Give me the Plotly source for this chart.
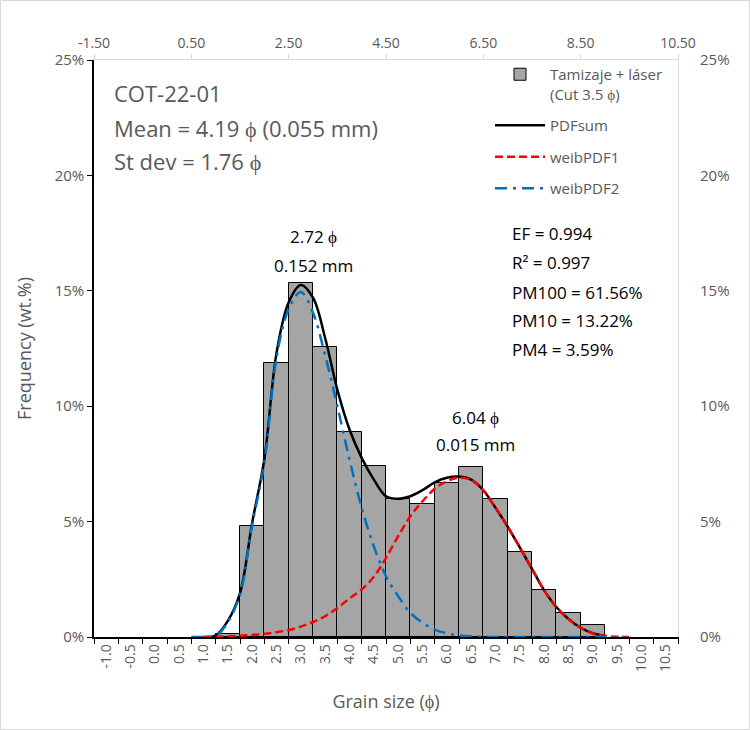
import plotly.graph_objects as go

# ---------------- data ----------------
categories = ["-1.0", "-0.5", "0.0", "0.5", "1.0", "1.5", "2.0", "2.5", "3.0", "3.5",
              "4.0", "4.5", "5.0", "5.5", "6.0", "6.5", "7.0", "7.5", "8.0", "8.5",
              "9.0", "9.5", "10.0", "10.5"]
freq = [None, None, None, None, None, 0.15, 4.80, 11.88, 15.32, 12.56,
        8.87, 7.40, 5.96, 5.77, 6.68, 7.37, 5.99, 3.68, 2.03, 1.05,
        0.51, None, None, None]

phi_sum = [0.75, 1.0, 1.25, 1.5, 1.75, 2.0, 2.25, 2.5, 2.75, 3.0, 3.25, 3.5, 3.75, 4.0,
           4.25, 4.5, 4.75, 5.0, 5.25, 5.5, 5.75, 6.0, 6.25, 6.5, 6.75, 7.0, 7.25, 7.5,
           7.75, 8.0, 8.25, 8.5, 8.75, 9.0]
pdf_sum = [0.0, 0.07, 0.7, 1.9, 4.95, 7.7, 12.3, 14.5, 15.25, 14.7, 12.95, 10.72, 8.99, 7.76,
           6.82, 6.1, 5.99, 6.1, 6.36, 6.7, 6.9, 6.95, 6.82, 6.36, 5.6, 4.78, 3.88, 2.95,
           2.02, 1.3, 0.78, 0.4, 0.16, 0.05]

phi_w1 = [0.75, 1.0, 1.25, 1.5, 1.75, 2.0, 2.25, 2.5, 2.75, 3.0, 3.25, 3.5, 3.75, 4.0,
          4.25, 4.5, 4.75, 5.0, 5.25, 5.5, 5.75, 6.0, 6.25, 6.5, 6.75, 7.0, 7.25, 7.5,
          7.75, 8.0, 8.25, 8.5, 8.75, 9.0, 9.25, 9.5]
weib_pdf1 = [0.0, 0.01, 0.03, 0.05, 0.09, 0.14, 0.21, 0.3, 0.45, 0.65, 0.9, 1.26, 1.67, 2.06,
             2.61, 3.43, 4.37, 5.23, 5.88, 6.42, 6.75, 6.9, 6.8, 6.35, 5.6, 4.78, 3.88, 2.95,
             2.02, 1.3, 0.78, 0.4, 0.16, 0.05, 0.01, 0.0]

phi_w2 = [0.5, 0.75, 1.0, 1.25, 1.5, 1.75, 2.0, 2.25, 2.5, 2.75, 3.0, 3.25, 3.5, 3.75, 4.0,
          4.25, 4.5, 4.75, 5.0, 5.25, 5.5, 5.75, 6.0, 6.25, 6.5, 6.75, 7.0, 7.5, 8.0,
          8.5, 9.0, 9.4]
weib_pdf2 = [0.0, 0.0, 0.05, 0.65, 1.85, 4.85, 7.55, 12.1, 14.2, 14.95, 14.05, 12.2, 10.0, 7.69,
             5.6, 3.93, 2.63, 1.77, 1.05, 0.62, 0.32, 0.16, 0.07, 0.03, 0.01, 0.0, 0.0, 0.0,
             0.0, 0.0, 0.0, 0.0]

top_ticks = [-1.5, 0.5, 2.5, 4.5, 6.5, 8.5, 10.5]
top_labels = ["-1.50", "0.50", "2.50", "4.50", "6.50", "8.50", "10.50"]
y_ticks = [0, 5, 10, 15, 20, 25]
y_labels = ["0%", "5%", "10%", "15%", "20%", "25%"]

stats_lines = ["COT-22-01", "Mean = 4.19 \u03d5 (0.055 mm)", "St dev = 1.76 \u03d5"]
fit_lines = ["EF = 0.994", "R\u00b2 = 0.997", "PM100 = 61.56%", "PM10 = 13.22%", "PM4 = 3.59%"]
peak1 = ["2.72 \u03d5", "0.152 mm"]
peak2 = ["6.04 \u03d5", "0.015 mm"]

# ---------------- figure ----------------
FONT = "Open Sans"
GRAY = "#595959"
L, R, T, B = 94, 72, 60, 93
W, H = 750, 730
PW, PH = W - L - R, H - T - B


def px(x):
    return (x - L) / PW


def py(y):
    return (H - B - y) / PH


fig = go.Figure()

fig.add_trace(go.Bar(
    x=categories, y=freq, name="Tamizaje + l\u00e1ser<br>(Cut 3.5 \u03d5)",
    marker=dict(color="#A5A5A5", line=dict(color="black", width=1)),
    xaxis="x", yaxis="y", legendgroup="g1",
))
fig.add_trace(go.Scatter(
    x=phi_sum, y=pdf_sum, name="PDFsum", mode="lines",
    line=dict(color="black", width=2.5, shape="spline"),
    xaxis="x2", yaxis="y", legendgroup="g2",
))
fig.add_trace(go.Scatter(
    x=phi_w1, y=weib_pdf1, name="weibPDF1", mode="lines",
    line=dict(color="#FF0000", width=2.5, dash="8px,4px", shape="spline"),
    xaxis="x2", yaxis="y", legendgroup="g3",
))
fig.add_trace(go.Scatter(
    x=phi_w2, y=weib_pdf2, name="weibPDF2", mode="lines",
    line=dict(color="#0070C0", width=2.5, dash="12px,6px,3px,6px", shape="spline"),
    xaxis="x2", yaxis="y", legendgroup="g4",
))
# invisible companion so the right-hand axis is drawn
fig.add_trace(go.Scatter(
    x=phi_sum, y=pdf_sum, mode="markers", marker=dict(opacity=0),
    xaxis="x2", yaxis="y2", showlegend=False, hoverinfo="skip",
))

annotations = []
for t, yy in zip(stats_lines, [93, 128, 161]):
    annotations.append(dict(text=t, x=px(112), y=py(yy), xref="paper", yref="paper",
                            xanchor="left", yanchor="middle", showarrow=False,
                            font=dict(family=FONT, size=22, color=GRAY)))
for t, yy in zip(fit_lines, [233, 262, 292, 320, 349]):
    annotations.append(dict(text=t, x=px(510), y=py(yy), xref="paper", yref="paper",
                            xanchor="left", yanchor="middle", showarrow=False,
                            font=dict(family=FONT, size=17, color="black")))
for t, yy in zip(peak1, [237, 265]):
    annotations.append(dict(text=t, x=px(313), y=py(yy), xref="paper", yref="paper",
                            xanchor="center", yanchor="middle", showarrow=False,
                            font=dict(family=FONT, size=17, color="black")))
for t, yy in zip(peak2, [417, 445]):
    annotations.append(dict(text=t, x=px(475), y=py(yy), xref="paper", yref="paper",
                            xanchor="center", yanchor="middle", showarrow=False,
                            font=dict(family=FONT, size=17, color="black")))

fig.update_layout(
    width=W, height=H,
    margin=dict(l=L, r=R, t=T, b=B),
    paper_bgcolor="white", plot_bgcolor="white",
    font=dict(family=FONT, color=GRAY),
    bargap=0,
    showlegend=True,
    legend=dict(x=px(490), y=py(58), xanchor="left", yanchor="top",
                bgcolor="rgba(0,0,0,0)", font=dict(family=FONT, size=15, color=GRAY),
                tracegroupgap=9, valign="top", itemwidth=50),
    xaxis=dict(type="category", categoryorder="array", categoryarray=categories,
               range=[-0.5, len(categories) - 0.5],
               showline=True, linecolor="black", linewidth=1.5,
               ticks="outside", tickson="boundaries", ticklen=5, tickcolor="black",
               tickangle=-90, tickfont=dict(size=14, color=GRAY),
               showgrid=False, zeroline=False,
               title=dict(text="Grain size (\u03d5)", font=dict(size=18, color=GRAY), standoff=24)),
    xaxis2=dict(overlaying="x", side="top", range=[-1.5, 10.5],
                tickmode="array", tickvals=top_ticks, ticktext=top_labels,
                showline=True, linecolor="#D9D9D9", linewidth=1,
                ticks="outside", ticklen=5, tickcolor="#D9D9D9",
                tickfont=dict(size=14, color=GRAY), showgrid=False, zeroline=False),
    yaxis=dict(range=[0, 25], tickmode="array", tickvals=y_ticks, ticktext=y_labels,
               showline=True, linecolor="black", linewidth=1.5,
               ticks="outside", ticklen=5, tickcolor="black",
               tickfont=dict(size=15, color=GRAY), showgrid=False, zeroline=False,
               title=dict(text="Frequency (wt.%)", font=dict(size=18, color=GRAY), standoff=18)),
    yaxis2=dict(overlaying="y", side="right", range=[0, 25], tickmode="array",
                tickvals=y_ticks, ticktext=y_labels,
                showline=True, linecolor="#D9D9D9", linewidth=1, ticks="",
                ticklabelstandoff=18,
                tickfont=dict(size=15, color=GRAY), showgrid=False, zeroline=False),
    annotations=annotations,
    shapes=[dict(type="rect", xref="paper", yref="paper",
                 x0=px(0.5), x1=px(W - 0.5), y0=py(H - 0.5), y1=py(0.5),
                 line=dict(color="#D9D9D9", width=1), layer="below")],
)

fig.write_html("out.html")
